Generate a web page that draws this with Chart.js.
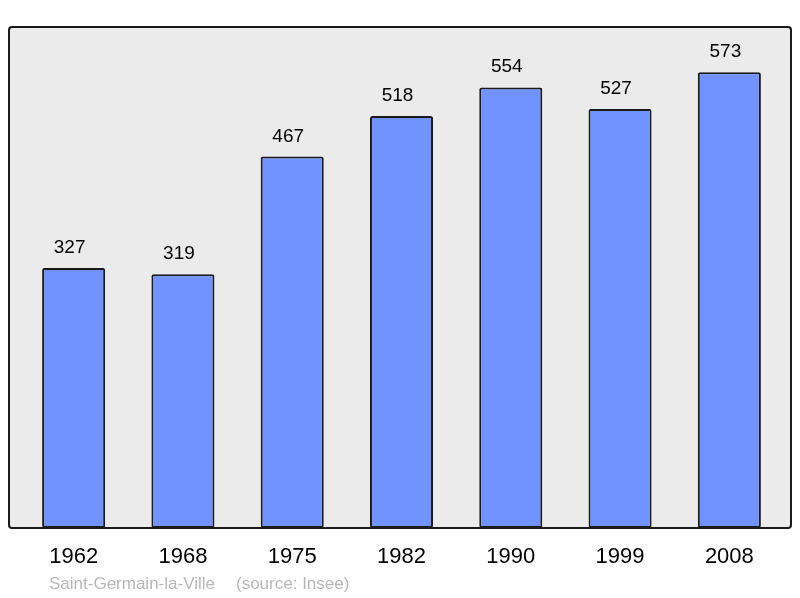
<!DOCTYPE html>
<html>
<head>
<meta charset="utf-8">
<script src="https://cdn.jsdelivr.net/npm/chart.js@4"></script>
<style>
  html, body { margin: 0; padding: 0; background: #fff; }
  #wrap { width: 800px; height: 598px; }
</style>
</head>
<body>
<div id="wrap"><canvas id="chart" width="800" height="598"></canvas></div>
<script>
const years = ['1962', '1968', '1975', '1982', '1990', '1999', '2008'];
const population = [327, 319, 467, 518, 554, 527, 573];
const yMax = 630;
const place = 'Saint-Germain-la-Ville';
const source = '(source: Insee)';

// grey panel with dark frame behind the bars
const framePlugin = {
    id: 'frame',
    beforeDraw(chart) {
        const { ctx, chartArea: a } = chart;
        const x0 = a.left - 10, x1 = a.right + 7;
        const y0 = a.top, y1 = a.bottom;
        ctx.save();
        ctx.beginPath();
        ctx.roundRect(x0, y0, x1 - x0, y1 - y0, 3);
        ctx.fillStyle = '#ebebeb';
        ctx.fill();
        ctx.lineWidth = 2;
        ctx.strokeStyle = '#1a1a1a';
        ctx.stroke();
        ctx.restore();
    },
};

const valueLabels = {
    id: 'valueLabels',
    afterDatasetsDraw(chart) {
        const { ctx } = chart;
        const meta = chart.getDatasetMeta(0);
        ctx.save();
        ctx.font = '19px "Liberation Sans", Arial, sans-serif';
        ctx.fillStyle = '#000';
        ctx.textAlign = 'center';
        ctx.textBaseline = 'alphabetic';
        meta.data.forEach((bar, i) => {
            ctx.fillText(String(population[i]), bar.x - 4, bar.y - 15);
        });
        ctx.font = '17px "Liberation Sans", Arial, sans-serif';
        ctx.fillStyle = '#b8b8b8';
        ctx.textAlign = 'left';
        ctx.fillText(place, 49, 589);
        ctx.fillText(source, 236, 589);
        ctx.restore();
    },
};

new Chart(document.getElementById('chart'), {
    type: 'bar',
    data: {
        labels: years,
        datasets: [{
            data: population,
            backgroundColor: '#7093ff',
            borderColor: '#1a1a1a',
            borderWidth: 2,
            borderRadius: 2,
            borderSkipped: false,
            barPercentage: 0.577,
            categoryPercentage: 1,
        }],
    },
    options: {
        responsive: false,
        animation: false,
        layout: { padding: { left: 19, right: 16, top: 27, bottom: 0 } },
        plugins: {
            legend: { display: false },
            tooltip: { enabled: false },
        },
        scales: {
            x: {
                grid: { display: false },
                border: { display: false },
                ticks: {
                    color: '#000',
                    font: { family: '"Liberation Sans", Arial, sans-serif', size: 22 },
                    padding: 8,
                },
                afterFit(scale) { scale.height = 70; },
            },
            y: {
                display: false,
                min: 0,
                max: yMax,
            },
        },
    },
    plugins: [framePlugin, valueLabels],
});
</script>
</body>
</html>
